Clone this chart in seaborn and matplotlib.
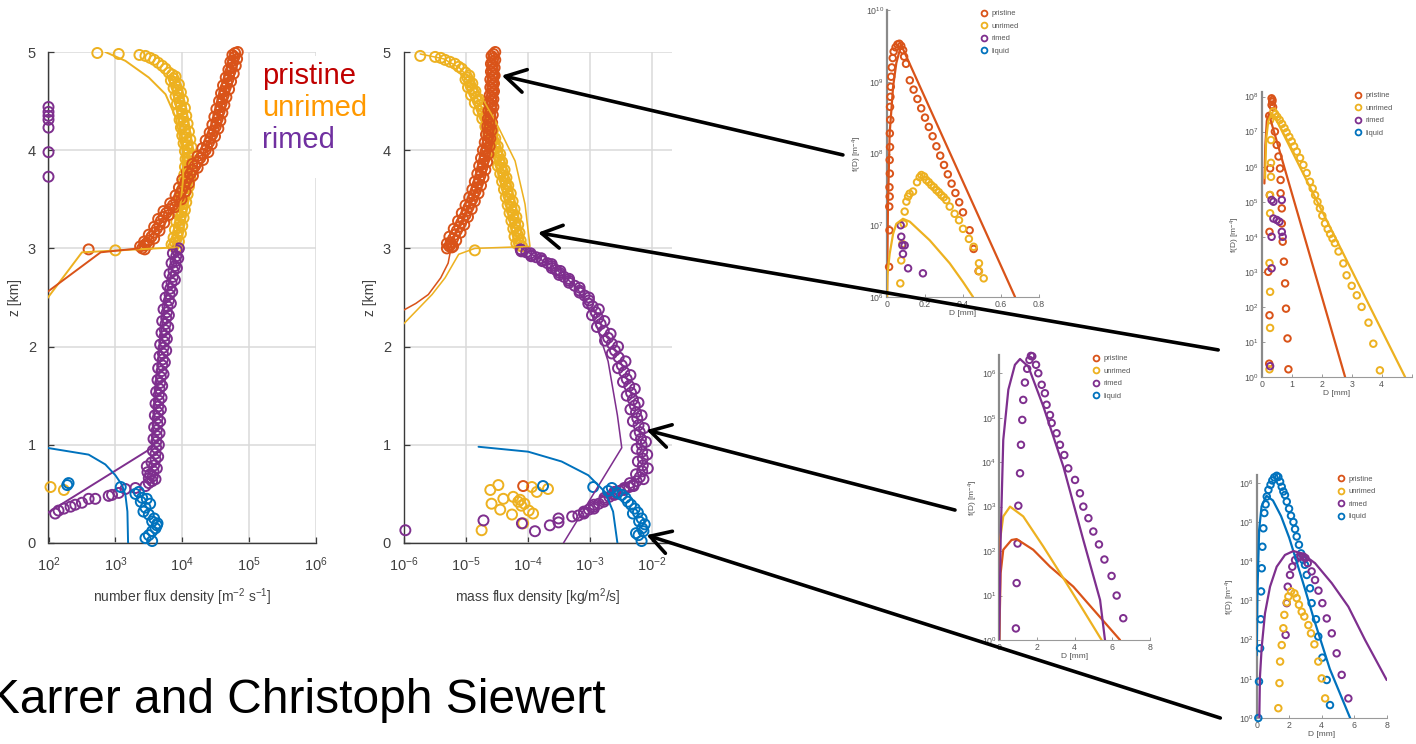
import numpy as np
import matplotlib
matplotlib.use("Agg")
import matplotlib.pyplot as plt
import seaborn as sns
from matplotlib.patches import Rectangle, ConnectionPatch
from matplotlib.lines import Line2D
from matplotlib.ticker import NullLocator

sns.set_style("ticks")
plt.rcParams["font.family"] = ["Liberation Sans", "DejaVu Sans"]
plt.rcParams["mathtext.default"] = "regular"

C_PRI = "#D95319"
C_UNR = "#EDB120"
C_RIM = "#7E2F8E"
C_LIQ = "#0072BD"
TXT = "#404040"

# ---------------- number flux density profiles (log10 values, z in km) ----------------
nf_pri_z = [5.00, 4.97, 4.93, 4.90, 4.86, 4.82, 4.78, 4.74, 4.70, 4.66,
            4.62, 4.58, 4.54, 4.50, 4.46, 4.42, 4.38, 4.34, 4.30, 4.26,
            4.22, 4.18, 4.14, 4.10, 4.06, 4.02, 3.98, 3.94, 3.90, 3.86,
            3.82, 3.78, 3.74, 3.70, 3.66, 3.62, 3.58, 3.54, 3.50, 3.46,
            3.42, 3.38, 3.34, 3.30, 3.26, 3.22, 3.18, 3.14, 3.10, 3.07,
            3.04, 3.02, 2.99, 2.99]
nf_pri_lg = [4.83, 4.75, 4.82, 4.72, 4.80, 4.69, 4.77, 4.65, 4.73, 4.61,
             4.70, 4.58, 4.66, 4.55, 4.63, 4.51, 4.60, 4.48, 4.57, 4.45,
             4.54, 4.41, 4.49, 4.35, 4.44, 4.30, 4.39, 4.23, 4.31, 4.15,
             4.23, 4.07, 4.16, 4.00, 4.10, 3.95, 4.05, 3.90, 3.99, 3.82,
             3.89, 3.72, 3.80, 3.64, 3.73, 3.58, 3.66, 3.50, 3.58, 3.43,
             3.50, 3.37, 3.44, 2.60]
nf_pri_core_z = [4.99, 4.95, 4.91, 4.88, 4.84, 4.80, 4.76, 4.72, 4.68, 4.64,
                 4.60, 4.56, 4.52, 4.48, 4.44, 4.40, 4.36, 4.32, 4.28, 4.24,
                 4.20, 4.16, 4.12, 4.08, 4.04, 4.00, 3.96, 3.92, 3.88, 3.84,
                 3.80, 3.76, 3.72, 3.68, 3.64, 3.60, 3.56, 3.52, 3.48, 3.44,
                 3.40, 3.36, 3.32, 3.28, 3.24, 3.20, 3.16, 3.12, 3.08, 3.05,
                 3.03, 3.00]
nf_pri_core_lg = [4.79, 4.78, 4.76, 4.75, 4.74, 4.72, 4.70, 4.69, 4.67, 4.65,
                  4.63, 4.62, 4.60, 4.59, 4.57, 4.56, 4.54, 4.53, 4.51, 4.50,
                  4.47, 4.45, 4.42, 4.40, 4.37, 4.35, 4.31, 4.27, 4.23, 4.19,
                  4.15, 4.12, 4.08, 4.05, 4.03, 4.00, 3.97, 3.95, 3.91, 3.86,
                  3.81, 3.76, 3.72, 3.68, 3.66, 3.62, 3.58, 3.54, 3.50, 3.46,
                  3.43, 3.40]
nf_pri_line_lg = [1.97, 2.78, 3.35, 3.50, 3.80, 4.00, 4.26, 4.51, 4.66, 4.81]
nf_pri_line_z = [2.55, 2.96, 3.00, 3.11, 3.35, 3.52, 3.82, 4.23, 4.67, 5.00]

nf_unr_z = [4.99, 4.98, 4.97, 4.96, 4.94, 4.92, 4.89, 4.86, 4.83, 4.79,
            4.75, 4.71, 4.67, 4.63, 4.59, 4.55, 4.51, 4.47, 4.43, 4.39,
            4.35, 4.31, 4.27, 4.23, 4.19, 4.15, 4.11, 4.07, 4.03, 3.99,
            3.95, 3.91, 3.87, 3.83, 3.79, 3.75, 3.71, 3.67, 3.63, 3.59,
            3.55, 3.51, 3.47, 3.43, 3.39, 3.35, 3.31, 3.27, 3.23, 3.19,
            3.15, 3.11, 3.07, 3.04, 3.01, 2.98, 0.57, 0.54]
nf_unr_lg = [2.73, 3.05, 3.36, 3.45, 3.52, 3.58, 3.64, 3.70, 3.75, 3.80,
             3.90, 3.83, 3.95, 3.87, 3.98, 3.90, 4.01, 3.92, 4.04, 3.94,
             4.06, 3.96, 4.08, 3.98, 4.10, 4.00, 4.12, 4.02, 4.14, 4.04,
             4.15, 4.05, 4.15, 4.04, 4.14, 4.03, 4.12, 4.01, 4.10, 3.99,
             4.08, 3.97, 4.06, 3.95, 4.04, 3.93, 4.02, 3.91, 4.00, 3.89,
             3.98, 3.87, 3.95, 3.84, 3.92, 3.00, 2.03, 2.23]
nf_unr_core_z = [4.77, 4.73, 4.69, 4.65, 4.61, 4.57, 4.53, 4.49, 4.45, 4.41,
                 4.37, 4.33, 4.29, 4.25, 4.21, 4.17, 4.13, 4.09, 4.05, 4.01,
                 3.97, 3.93, 3.89, 3.85, 3.81, 3.77, 3.73, 3.69, 3.65, 3.61,
                 3.57, 3.53, 3.49, 3.45, 3.41, 3.37, 3.33, 3.29, 3.25, 3.21,
                 3.17, 3.13, 3.09, 3.06, 3.02]
nf_unr_core_lg = [3.85, 3.87, 3.89, 3.91, 3.93, 3.94, 3.95, 3.96, 3.98, 3.99,
                  4.00, 4.01, 4.02, 4.03, 4.04, 4.05, 4.06, 4.07, 4.08, 4.09,
                  4.09, 4.10, 4.10, 4.10, 4.09, 4.08, 4.07, 4.07, 4.06, 4.05,
                  4.04, 4.03, 4.02, 4.01, 4.00, 3.99, 3.98, 3.97, 3.96, 3.95,
                  3.94, 3.93, 3.91, 3.89, 3.87]
nf_unr_line_lg = [2.85, 3.15, 3.50, 3.75, 3.905, 4.005, 4.015, 3.965, 3.88, 2.50, 1.97]
nf_unr_line_z = [5.00, 4.91, 4.74, 4.57, 4.33, 3.99, 3.72, 3.38, 3.01, 2.96, 2.48]

nf_rim_z = [4.44, 4.39, 4.35, 4.31, 4.23, 3.98, 3.73,
            3.00, 2.95, 2.90, 2.85, 2.80, 2.74, 2.68, 2.62, 2.56, 2.50,
            2.44, 2.38, 2.32, 2.26, 2.20, 2.14, 2.08, 2.02, 1.96, 1.90,
            1.84, 1.78, 1.72, 1.66, 1.60, 1.54, 1.48, 1.42, 1.36, 1.30,
            1.24, 1.18, 1.12, 1.06, 1.00, 0.94, 0.88, 0.82, 0.76, 0.70,
            0.65, 0.61,
            0.58, 0.56, 0.55, 0.51, 0.49, 0.48, 0.45, 0.45, 0.41, 0.39,
            0.37, 0.35, 0.33, 0.30, 0.72, 0.66, 0.78]
nf_rim_lg = [2.00, 2.00, 2.00, 2.00, 2.00, 2.00, 2.00,
             3.95, 3.86, 3.94, 3.84, 3.92, 3.81, 3.89, 3.78, 3.85, 3.75,
             3.83, 3.72, 3.80, 3.70, 3.79, 3.69, 3.77, 3.67, 3.76, 3.66,
             3.74, 3.64, 3.72, 3.63, 3.70, 3.61, 3.69, 3.60, 3.68, 3.59,
             3.67, 3.58, 3.66, 3.57, 3.65, 3.56, 3.64, 3.54, 3.62, 3.52,
             3.60, 3.50,
             3.45, 3.30, 3.15, 3.05, 2.95, 2.90, 2.70, 2.60, 2.50, 2.40,
             2.33, 2.23, 2.15, 2.10, 3.48, 3.50, 3.47]
nf_rim_core_z = [2.98, 2.92, 2.87, 2.82, 2.77, 2.71, 2.65, 2.59, 2.53, 2.47,
                 2.41, 2.35, 2.29, 2.23, 2.17, 2.11, 2.05, 1.99, 1.93, 1.87,
                 1.81, 1.75, 1.69, 1.63, 1.57, 1.51, 1.45, 1.39, 1.33, 1.27,
                 1.21, 1.15, 1.09, 1.03, 0.97, 0.91, 0.85, 0.79, 0.73, 0.68,
                 0.63]
nf_rim_core_lg = [3.92, 3.91, 3.90, 3.89, 3.87, 3.86, 3.84, 3.82, 3.81, 3.80,
                  3.78, 3.77, 3.76, 3.75, 3.74, 3.74, 3.73, 3.72, 3.71, 3.71,
                  3.70, 3.69, 3.68, 3.67, 3.66, 3.65, 3.65, 3.64, 3.64, 3.63,
                  3.63, 3.62, 3.62, 3.61, 3.61, 3.60, 3.60, 3.58, 3.57, 3.56,
                  3.55]
nf_rim_line_lg = [1.97, 3.55, 3.58, 3.62, 3.68, 3.75, 3.85, 3.92]
nf_rim_line_z = [0.30, 0.97, 1.30, 1.70, 2.10, 2.50, 2.80, 3.00]

nf_liq_lg = [2.28, 2.30, 3.08, 3.35, 3.30, 3.40, 3.38, 3.45, 3.42, 3.50, 3.55,
             3.58, 3.60, 3.55, 3.62, 3.63, 3.45, 3.55, 3.50, 3.52, 3.47]
nf_liq_z = [0.59, 0.61, 0.57, 0.52, 0.50, 0.46, 0.42, 0.36, 0.32, 0.29, 0.22,
            0.25, 0.15, 0.12, 0.18, 0.20, 0.05, 0.02, 0.08, 0.40, 0.45]
nf_liq_line_lg = [1.97, 2.60, 2.85, 3.00, 3.10, 3.15, 3.18, 3.19]
nf_liq_line_z = [0.97, 0.90, 0.80, 0.69, 0.59, 0.49, 0.32, 0.00]

# ---------------- mass flux density profiles (log10 values, z in km) ----------------
mf_pri_z = [5.00, 4.96, 4.92, 4.88, 4.84, 4.80, 4.76, 4.72, 4.68, 4.64,
            4.60, 4.56, 4.52, 4.48, 4.44, 4.40, 4.36, 4.32, 4.28, 4.24,
            4.20, 4.16, 4.12, 4.08, 4.04, 4.00, 3.96, 3.92, 3.88, 3.84,
            3.80, 3.76, 3.72, 3.68, 3.64, 3.60, 3.56, 3.52, 3.48, 3.44,
            3.40, 3.36, 3.32, 3.28, 3.24, 3.20, 3.16, 3.12, 3.08, 3.05,
            3.02, 3.00, 3.04, 3.01, 0.58]
mf_pri_lg = [-4.52, -4.58, -4.52, -4.59, -4.53, -4.59, -4.53, -4.60, -4.54, -4.60,
             -4.54, -4.61, -4.55, -4.62, -4.55, -4.63, -4.56, -4.64, -4.57, -4.65,
             -4.58, -4.67, -4.60, -4.69, -4.61, -4.72, -4.63, -4.75, -4.65, -4.78,
             -4.68, -4.81, -4.71, -4.85, -4.75, -4.89, -4.79, -4.94, -4.85, -5.00,
             -4.90, -5.06, -4.96, -5.12, -5.02, -5.19, -5.08, -5.26, -5.15, -5.30,
             -5.20, -5.30, -5.24, -5.22, -4.07]
mf_pri_core_z = [4.98, 4.94, 4.90, 4.86, 4.82, 4.78, 4.74, 4.70, 4.66, 4.62,
                 4.58, 4.54, 4.50, 4.46, 4.42, 4.38, 4.34, 4.30, 4.26, 4.22,
                 4.18, 4.14, 4.10, 4.06, 4.02, 3.98, 3.94, 3.90, 3.86, 3.82,
                 3.78, 3.74, 3.70, 3.66, 3.62, 3.58, 3.54, 3.50, 3.46, 3.42,
                 3.38, 3.34, 3.30, 3.26, 3.22, 3.18, 3.14, 3.10, 3.06, 3.02]
mf_pri_core_lg = [-4.55, -4.55, -4.56, -4.56, -4.56, -4.56, -4.56, -4.57, -4.57, -4.57,
                  -4.57, -4.58, -4.58, -4.58, -4.59, -4.60, -4.60, -4.61, -4.61, -4.62,
                  -4.63, -4.63, -4.64, -4.65, -4.66, -4.68, -4.69, -4.70, -4.72, -4.73,
                  -4.75, -4.76, -4.78, -4.80, -4.82, -4.84, -4.87, -4.89, -4.92, -4.95,
                  -4.98, -5.00, -5.04, -5.07, -5.10, -5.14, -5.17, -5.20, -5.24, -5.26]
mf_pri_line_lg = [-4.55, -4.47, -4.50, -4.55, -4.62, -4.72, -4.85, -5.00, -5.15, -5.27,
                  -5.25, -5.28, -5.40, -5.60, -5.80, -6.03]
mf_pri_line_z = [5.00, 4.78, 4.50, 4.20, 4.00, 3.80, 3.55, 3.35, 3.18, 3.03,
                 2.95, 2.85, 2.70, 2.53, 2.44, 2.36]

mf_unr_z = [4.96, 4.95, 4.94, 4.92, 4.90, 4.88, 4.85, 4.83, 4.79,
            4.76, 4.72, 4.68, 4.64, 4.60, 4.56, 4.52, 4.48, 4.44, 4.40,
            4.36, 4.32, 4.28, 4.24, 4.20, 4.16, 4.12, 4.08, 4.04, 4.00,
            3.96, 3.92, 3.88, 3.84, 3.80, 3.76, 3.72, 3.68, 3.64, 3.60,
            3.56, 3.52, 3.48, 3.44, 3.40, 3.36, 3.32, 3.28, 3.24, 3.20,
            3.16, 3.12, 3.08, 3.05, 3.02, 2.98,
            0.54, 0.59, 0.40, 0.34, 0.45, 0.47, 0.42, 0.38, 0.40, 0.30,
            0.57, 0.52, 0.55, 0.29, 0.20, 0.13, 0.44, 0.33]
mf_unr_lg = [-5.73, -5.49, -5.40, -5.33, -5.25, -5.17, -5.11, -5.06, -5.00,
             -4.94, -5.00, -4.89, -4.96, -4.84, -4.91, -4.78, -4.85, -4.72, -4.79,
             -4.66, -4.73, -4.61, -4.68, -4.56, -4.63, -4.52, -4.59, -4.48, -4.55,
             -4.44, -4.51, -4.41, -4.48, -4.37, -4.44, -4.34, -4.41, -4.31, -4.38,
             -4.27, -4.35, -4.24, -4.32, -4.21, -4.29, -4.18, -4.26, -4.15, -4.23,
             -4.13, -4.21, -4.11, -4.18, -4.09, -4.85,
             -4.60, -4.47, -4.58, -4.44, -4.39, -4.23, -4.15, -4.10, -4.05, -3.91,
             -3.93, -3.85, -3.67, -4.25, -4.07, -4.74, -4.12, -3.98]
mf_unr_core_z = [4.74, 4.70, 4.66, 4.62, 4.58, 4.54, 4.50, 4.46, 4.42, 4.38,
                 4.34, 4.30, 4.26, 4.22, 4.18, 4.14, 4.10, 4.06, 4.02, 3.98,
                 3.94, 3.90, 3.86, 3.82, 3.78, 3.74, 3.70, 3.66, 3.62, 3.58,
                 3.54, 3.50, 3.46, 3.42, 3.38, 3.34, 3.30, 3.26, 3.22, 3.18,
                 3.14, 3.10, 3.06, 3.03]
mf_unr_core_lg = [-4.97, -4.94, -4.92, -4.89, -4.86, -4.83, -4.80, -4.77, -4.74, -4.72,
                  -4.69, -4.66, -4.64, -4.61, -4.59, -4.57, -4.55, -4.53, -4.51, -4.49,
                  -4.47, -4.45, -4.44, -4.42, -4.40, -4.39, -4.37, -4.35, -4.34, -4.32,
                  -4.31, -4.29, -4.28, -4.26, -4.25, -4.23, -4.22, -4.20, -4.19, -4.18,
                  -4.16, -4.15, -4.14, -4.13]
mf_unr_line_lg = [-5.73, -5.35, -5.10, -4.95, -4.75, -4.52, -4.20, -4.04, -3.96,
                  -4.85, -5.11, -5.33, -5.54, -6.03]
mf_unr_line_z = [4.98, 4.93, 4.84, 4.74, 4.55, 4.30, 3.89, 3.45, 3.02,
                 3.00, 2.94, 2.70, 2.53, 2.21]

mf_rim_z = [2.99, 2.97, 2.95, 2.92, 2.90, 2.87, 2.84, 2.80, 2.77, 2.73,
            2.69, 2.65, 2.60, 2.55, 2.50, 2.44, 2.38, 2.32, 2.26, 2.20,
            2.13, 2.06, 2.00, 1.93, 1.85, 1.78, 1.71, 1.64, 1.57, 1.50,
            1.43, 1.36, 1.30, 1.24, 1.17, 1.10, 1.03, 0.96, 0.90, 0.83,
            0.76, 0.70, 0.65, 0.61, 0.58, 0.56, 0.54, 0.52, 0.49, 0.46,
            0.42, 0.39, 0.35, 0.32, 0.30, 0.27,
            0.13, 0.23, 0.20, 0.12, 0.18, 0.25, 0.21]
mf_rim_lg = [-4.11, -4.10, -3.95, -3.94, -3.78, -3.76, -3.61, -3.61, -3.47, -3.49,
             -3.33, -3.33, -3.16, -3.16, -3.01, -3.02, -2.85, -2.96, -2.76, -2.88,
             -2.66, -2.75, -2.54, -2.64, -2.42, -2.54, -2.34, -2.46, -2.27, -2.40,
             -2.21, -2.34, -2.16, -2.30, -2.12, -2.26, -2.09, -2.24, -2.07, -2.22,
             -2.06, -2.25, -2.13, -2.35, -2.29, -2.44, -2.44, -2.60, -2.60, -2.76,
             -2.77, -2.93, -2.93, -3.09, -3.09, -3.28,
             -5.97, -4.71, -4.09, -3.88, -3.64, -3.50, -3.50]
mf_rim_core_z = [2.98, 2.96, 2.93, 2.91, 2.88, 2.85, 2.82, 2.78, 2.75, 2.71,
                 2.67, 2.62, 2.57, 2.52, 2.47, 2.41, 2.35, 2.29, 2.23, 2.16,
                 2.09, 2.03, 1.96, 1.89, 1.81, 1.74, 1.67, 1.60, 1.53, 1.46,
                 1.40, 1.33, 1.27, 1.20, 1.13, 1.06, 1.00, 0.93, 0.86, 0.79,
                 0.73, 0.67, 0.63, 0.59, 0.57, 0.55, 0.53, 0.50, 0.47, 0.44,
                 0.40, 0.37, 0.34, 0.31, 0.28]
mf_rim_core_lg = [-4.10, -4.02, -3.94, -3.86, -3.77, -3.68, -3.61, -3.54, -3.48, -3.41,
                  -3.33, -3.24, -3.16, -3.08, -3.01, -2.95, -2.90, -2.86, -2.82, -2.77,
                  -2.70, -2.64, -2.59, -2.53, -2.48, -2.44, -2.40, -2.36, -2.33, -2.30,
                  -2.27, -2.25, -2.23, -2.21, -2.19, -2.17, -2.16, -2.15, -2.14, -2.14,
                  -2.15, -2.19, -2.24, -2.30, -2.36, -2.44, -2.52, -2.60, -2.68, -2.76,
                  -2.85, -2.93, -3.01, -3.09, -3.18]
mf_rim_line_lg = [-4.10, -3.60, -3.20, -2.91, -2.70, -2.55, -2.48, -3.42]
mf_rim_line_z = [3.00, 2.82, 2.60, 2.26, 1.85, 1.30, 0.97, 0.00]

mf_liq_lg = [-2.94, -3.75, -2.64, -2.70, -2.55, -2.48, -2.42, -2.38, -2.33, -2.27,
             -2.22, -2.16, -2.20, -2.11, -2.15, -2.21, -2.16, -2.25, -2.13, -2.30]
mf_liq_z = [0.57, 0.58, 0.56, 0.53, 0.51, 0.49, 0.46, 0.42, 0.39, 0.35,
            0.31, 0.25, 0.22, 0.19, 0.15, 0.08, 0.02, 0.10, 0.12, 0.30]
mf_liq_line_lg = [-4.79, -3.99, -3.45, -3.02, -2.75, -2.62, -2.55]
mf_liq_line_z = [0.98, 0.93, 0.83, 0.69, 0.52, 0.32, 0.00]

# ---------------- size distributions f(D) (D in mm, log10 f) ----------------
# z ~ 4.8 km
a_pri_d = [0.011, 0.013, 0.012, 0.014, 0.013, 0.015, 0.014, 0.016, 0.015, 0.017,
           0.016, 0.018, 0.020, 0.022, 0.025, 0.030, 0.035,
           0.045, 0.055, 0.065, 0.075, 0.085,
           0.090, 0.100, 0.120, 0.140, 0.160, 0.180, 0.200, 0.220, 0.240, 0.260,
           0.280, 0.300, 0.320, 0.340, 0.360, 0.380, 0.400, 0.435, 0.456, 0.482]
a_pri_lg = [6.42, 6.93, 7.26, 7.40, 7.53, 7.72, 7.91, 8.09, 8.28, 8.47,
            8.65, 8.79, 8.93, 9.07, 9.20, 9.33, 9.42,
            9.48, 9.52, 9.53, 9.50, 9.44,
            9.35, 9.25, 9.02, 8.89, 8.76, 8.63, 8.50, 8.37, 8.24, 8.10,
            7.97, 7.84, 7.71, 7.58, 7.45, 7.32, 7.18, 6.93, 6.67, 6.36]
a_pri_line_d = [0.0, 0.005, 0.014, 0.032, 0.049, 0.067, 0.075, 0.674]
a_pri_line_lg = [6.0, 7.26, 8.28, 8.93, 9.26, 9.44, 9.51, 6.0]
a_unr_d = [0.070, 0.075, 0.081, 0.088, 0.093, 0.102, 0.111, 0.119, 0.137, 0.158,
           0.172, 0.181, 0.195, 0.207, 0.220, 0.233, 0.247, 0.260, 0.273, 0.286,
           0.299, 0.312, 0.330, 0.356, 0.379, 0.400, 0.431, 0.456, 0.484, 0.484,
           0.509]
a_unr_lg = [6.19, 6.51, 6.74, 7.02, 7.19, 7.33, 7.40, 7.44, 7.47, 7.60,
            7.67, 7.70, 7.68, 7.63, 7.60, 7.56, 7.53, 7.49, 7.46, 7.42,
            7.39, 7.35, 7.26, 7.16, 7.07, 6.95, 6.81, 6.70, 6.47, 6.36,
            6.26]
a_unr_line_d = [0.0, 0.002, 0.014, 0.032, 0.049, 0.084, 0.120, 0.225, 0.330, 0.400, 0.453]
a_unr_line_lg = [6.0, 6.3, 6.6, 6.88, 7.02, 7.09, 7.05, 6.79, 6.47, 6.21, 6.0]
a_rim_d = [0.072, 0.075, 0.081, 0.084, 0.093, 0.111, 0.189]
a_rim_lg = [7.00, 6.84, 6.72, 6.60, 6.72, 6.40, 6.33]

# z ~ 3.2 km
b_pri_d = [0.33, 0.35, 0.33, 0.36, 0.38,
           0.44, 0.50, 0.56, 0.61, 0.63, 0.63, 0.67, 0.67, 0.70, 0.74, 0.78, 0.81, 0.86, 0.89,
           0.25, 0.28, 0.27, 0.26, 0.22, 0.26, 0.25]
b_pri_lg = [7.95, 7.85, 7.76, 7.90, 7.70,
            7.00, 6.62, 6.29, 5.95, 5.62, 5.24, 4.81, 4.38, 3.86, 3.29, 2.67, 1.95, 1.10, 0.22,
            7.45, 5.95, 5.19, 4.14, 3.00, 1.76, 0.38]
b_pri_line_d = [0.09, 0.12, 0.17, 0.24, 2.78]
b_pri_line_lg = [5.52, 6.6, 7.3, 7.5, 0.0]
b_unr_d = [0.39, 0.45, 0.52, 0.60, 0.68, 0.76, 0.83, 0.92, 1.00, 1.08,
           1.17, 1.28, 1.39, 1.50, 1.61, 1.70, 1.78, 1.86, 1.94, 2.02,
           2.11, 2.20, 2.28, 2.36, 2.44, 2.56, 2.72, 2.83, 3.00, 3.17,
           3.33, 3.56, 3.72, 3.94,
           0.28, 0.31, 0.31, 0.31, 0.28, 0.28, 0.26, 0.28, 0.28, 0.26]
b_unr_lg = [7.57, 7.50, 7.42, 7.33, 7.22, 7.10, 6.98, 6.85, 6.72, 6.58,
            6.43, 6.25, 6.05, 5.82, 5.57, 5.38, 5.19, 5.00, 4.81, 4.60,
            4.38, 4.22, 4.08, 3.95, 3.82, 3.58, 3.24, 2.90, 2.60, 2.33,
            2.00, 1.55, 0.95, 0.19,
            7.33, 6.76, 6.11, 5.71, 5.19, 4.67, 3.25, 2.43, 1.40, 0.22]
b_unr_line_d = [0.11, 0.15, 0.22, 0.33, 0.42, 4.78]
b_unr_line_lg = [5.67, 6.8, 7.3, 7.52, 7.45, 0.0]
b_rim_d = [0.33, 0.39, 0.67, 0.39, 0.50, 0.59, 0.33, 0.67, 0.70, 0.33, 0.28]
b_rim_lg = [5.05, 5.00, 5.05, 4.52, 4.48, 4.43, 4.00, 4.14, 4.00, 3.10, 0.31]

# z ~ 1.1 km
c_rim_d = [0.88, 0.92, 0.97, 1.01, 1.10, 1.15, 1.22, 1.27, 1.36, 1.48,
           1.60, 1.68, 1.75, 1.95, 2.07, 2.25, 2.42, 2.51, 2.69, 2.78,
           3.04, 3.22, 3.45, 3.66, 4.02, 4.28, 4.46, 4.73, 4.99, 5.29,
           5.58, 5.96, 6.23, 6.58]
c_rim_lg = [0.26, 1.28, 2.17, 3.02, 3.75, 4.39, 4.95, 5.40, 5.79, 6.10,
            6.30, 6.39, 6.38, 6.19, 6.00, 5.74, 5.55, 5.29, 5.06, 4.88,
            4.65, 4.39, 4.16, 3.86, 3.60, 3.30, 3.00, 2.74, 2.44, 2.15,
            1.81, 1.44, 1.00, 0.49]
c_rim_line_d = [0.0, 0.07, 0.21, 0.48, 0.83, 1.10, 1.54, 2.34, 3.40, 4.46, 5.35, 5.61]
c_rim_line_lg = [0.0, 2.25, 4.5, 5.63, 6.19, 6.32, 6.15, 5.25, 3.9, 2.25, 0.9, 0.0]
c_unr_line_d = [0.0, 0.04, 0.21, 0.57, 1.27, 2.34, 3.40, 4.46, 5.43]
c_unr_line_lg = [0.0, 2.25, 2.78, 3.0, 2.78, 2.1, 1.39, 0.67, 0.0]
c_pri_line_d = [0.0, 0.07, 0.21, 0.65, 0.92, 1.80, 2.69, 3.93, 5.17, 6.41]
c_pri_line_lg = [0.0, 1.5, 2.03, 2.25, 2.27, 2.03, 1.65, 1.2, 0.6, 0.0]

# z ~ 0.1 km
d_liq_d = [0.10, 0.14, 0.21, 0.25, 0.27, 0.31, 0.35, 0.41, 0.47, 0.55,
           0.62, 0.72, 0.85, 0.96, 1.08,
           1.23, 1.33, 1.44, 1.54, 1.64, 1.74, 1.85, 1.99, 2.11, 2.26,
           2.36, 2.46, 2.60, 2.73, 2.87, 2.97, 3.08, 3.28, 3.38, 3.65,
           3.79, 4.04, 4.31, 4.51]
d_liq_lg = [0.0, 0.93, 1.78, 2.52, 3.23, 3.82, 4.37, 4.84, 5.23, 5.45,
            5.65, 5.82, 5.95, 6.06, 6.14,
            6.18, 6.15, 6.03, 5.90, 5.78, 5.69, 5.52, 5.34, 5.16, 5.00,
            4.82, 4.63, 4.42, 4.20, 4.03, 3.91, 3.65, 3.31, 2.93, 2.52,
            2.08, 1.54, 0.97, 0.33]
d_liq_line_d = [0.0, 0.05, 0.15, 0.3, 0.6, 1.0, 1.5, 2.0, 2.3, 3.0, 3.5, 4.0, 4.5, 5.0, 5.4, 5.75]
d_liq_line_lg = [1.6, 3.3, 4.8, 5.4, 5.67, 5.55, 5.15, 4.6, 4.2, 3.25, 2.55, 1.9, 1.25, 0.75, 0.35, 0.0]
d_rim_d = [1.78, 1.85, 1.91, 2.05, 2.19, 2.36, 2.55, 2.70, 2.87, 3.00,
           3.14, 3.38, 3.59, 3.80, 4.04, 4.31, 4.62, 4.92, 5.23, 5.64]
d_rim_lg = [2.12, 2.93, 3.35, 3.65, 3.86, 4.03, 4.10, 4.12, 4.12, 4.08,
            3.95, 3.74, 3.52, 3.25, 2.93, 2.54, 2.16, 1.65, 1.10, 0.50]
d_rim_line_d = [0.16, 0.2, 0.31, 0.51, 0.82, 1.23, 1.74, 2.26, 2.77, 3.59, 4.62, 5.64, 6.67, 8.0]
d_rim_line_lg = [0.0, 1.05, 1.82, 2.67, 3.35, 3.86, 4.16, 4.26, 4.2, 3.95, 3.44, 2.84, 1.99, 0.97]
d_unr_d = [1.33, 1.40, 1.44, 1.54, 1.64, 1.70, 1.85, 1.95, 2.11, 2.32,
           2.46, 2.60, 2.77, 2.93, 3.18, 3.34, 3.55, 3.79, 4.00, 4.21]
d_unr_lg = [0.25, 0.89, 1.44, 1.86, 2.29, 2.63, 2.95, 3.10, 3.23, 3.18,
            3.06, 2.89, 2.71, 2.59, 2.37, 2.16, 1.88, 1.44, 1.01, 0.50]

classes = ["pristine", "unrimed", "rimed", "liquid"]
class_colors = [C_PRI, C_UNR, C_RIM, C_LIQ]
label_words = ["pristine", "unrimed", "rimed"]
label_colors = ["#C00000", "#FF9900", "#7030A0"]

# ---------------- figure ----------------
W, H = 1416, 744
fig = plt.figure(figsize=(W / 100, H / 100), dpi=100)
fig.patch.set_facecolor("white")


def axes_px(left, top, right, bottom):
    return fig.add_axes([left / W, 1 - bottom / H, (right - left) / W, (bottom - top) / H])


def p10(v):
    return np.power(10.0, np.asarray(v, dtype=float))


def circles(ax, x, y, color, size, width):
    sns.scatterplot(x=x, y=y, ax=ax, marker="o", s=size, facecolors="none",
                    edgecolor=color, linewidth=width, clip_on=False, zorder=3)


def curve(ax, x, y, color, width):
    sns.lineplot(x=x, y=y, ax=ax, sort=False, estimator=None, color=color,
                 linewidth=width, zorder=4)


def style_profile(ax, xlim, xticks, xlabel):
    ax.set_xscale("log")
    ax.set_xlim(*xlim)
    ax.set_ylim(0, 5)
    ax.set_xticks(xticks)
    ax.xaxis.set_minor_locator(NullLocator())
    ax.set_yticks(range(6))
    ax.grid(True, color="#dadada", linewidth=1.1)
    ax.set_axisbelow(True)
    for s in ["top", "right"]:
        ax.spines[s].set_visible(False)
    for s in ["left", "bottom"]:
        ax.spines[s].set_color("#3a3a3a")
        ax.spines[s].set_linewidth(1.0)
    ax.tick_params(direction="in", length=4, width=0.9, color="#3a3a3a",
                   labelcolor=TXT, labelsize=10.5, pad=9)
    ax.set_xlabel(xlabel, fontsize=10, color=TXT, labelpad=9)
    ax.set_ylabel("z [km]", fontsize=10, color=TXT, labelpad=4)
    ax.patch.set_alpha(0)


def style_inset(ax, xlim, xticks, xticklabels, top_lg, ytick_lg):
    ax.set_yscale("log")
    ax.set_xlim(*xlim)
    ax.set_ylim(p10(ytick_lg[0]), p10(top_lg))
    ax.set_xticks(xticks)
    ax.set_xticklabels(xticklabels)
    ax.set_yticks(p10(ytick_lg))
    ax.yaxis.set_minor_locator(NullLocator())
    for s in ["top", "right"]:
        ax.spines[s].set_visible(False)
    ax.spines["left"].set_color("#8a8a8a")
    ax.spines["left"].set_linewidth(1.6)
    ax.spines["bottom"].set_color("#9a9a9a")
    ax.spines["bottom"].set_linewidth(0.8)
    ax.tick_params(direction="in", length=2.5, width=0.6, color="#8a8a8a",
                   labelcolor="#555555", labelsize=6.3, pad=2)
    ax.set_xlabel("D [mm]", fontsize=6, color="#555555", labelpad=1)
    ax.set_ylabel("f(D) [m$^{-4}$]", fontsize=6, color="#555555", labelpad=1)
    ax.patch.set_alpha(0)
    handles = [Line2D([], [], ls="", marker="o", ms=4.2, mfc="none", mec=c, mew=1.3)
               for c in class_colors]
    ax.legend(handles, classes, loc="upper left", bbox_to_anchor=(0.6, 1.01),
              frameon=False, fontsize=5.4, handlelength=0.8, handletextpad=0.6,
              labelspacing=0.7, borderaxespad=0, labelcolor="#555555")


MS, MW, LW = 52, 1.4, 1.4

# number flux density panel
ax1 = axes_px(48.5, 52, 316, 543)
style_profile(ax1, (1e2, 1e6), p10([2, 3, 4, 5, 6]),
              "number flux density [m$^{-2}$ s$^{-1}$]")
circles(ax1, p10(nf_unr_lg + nf_unr_core_lg), nf_unr_z + nf_unr_core_z, C_UNR, MS, MW)
circles(ax1, p10(nf_pri_lg + nf_pri_core_lg), nf_pri_z + nf_pri_core_z, C_PRI, MS, MW)
circles(ax1, p10(nf_rim_lg + nf_rim_core_lg), nf_rim_z + nf_rim_core_z, C_RIM, MS, MW)
circles(ax1, p10(nf_liq_lg), nf_liq_z, C_LIQ, MS, MW)
curve(ax1, p10(nf_unr_line_lg), nf_unr_line_z, C_UNR, LW)
curve(ax1, p10(nf_pri_line_lg), nf_pri_line_z, C_PRI, LW)
curve(ax1, p10(nf_rim_line_lg), nf_rim_line_z, C_RIM, LW)
curve(ax1, p10(nf_liq_line_lg), nf_liq_line_z, C_LIQ, LW)

# class names on a white box over the top right of the panel
fig.add_artist(Rectangle((252 / W, 1 - 178 / H), 80 / W, 122 / H,
                         transform=fig.transFigure, facecolor="white",
                         edgecolor="none", zorder=5))
for i, (word, col) in enumerate(zip(label_words, label_colors)):
    fig.text(262 / W, 1 - (76 + 32 * i) / H, word, color=col, fontsize=21,
             va="center", ha="left", zorder=6)

# mass flux density panel
ax2 = axes_px(403.5, 52, 671.5, 543)
style_profile(ax2, (1e-6, 2.1e-2), p10([-6, -5, -4, -3, -2]),
              "mass flux density [kg/m$^2$/s]")
circles(ax2, p10(mf_unr_lg + mf_unr_core_lg), mf_unr_z + mf_unr_core_z, C_UNR, MS, MW)
circles(ax2, p10(mf_pri_lg + mf_pri_core_lg), mf_pri_z + mf_pri_core_z, C_PRI, MS, MW)
circles(ax2, p10(mf_rim_lg + mf_rim_core_lg), mf_rim_z + mf_rim_core_z, C_RIM, MS, MW)
circles(ax2, p10(mf_liq_lg), mf_liq_z, C_LIQ, MS, MW)
curve(ax2, p10(mf_unr_line_lg), mf_unr_line_z, C_UNR, LW * 0.8)
curve(ax2, p10(mf_pri_line_lg), mf_pri_line_z, C_PRI, LW * 0.8)
curve(ax2, p10(mf_rim_line_lg), mf_rim_line_z, C_RIM, LW * 0.8)
curve(ax2, p10(mf_liq_line_lg), mf_liq_line_z, C_LIQ, LW)

IS, IW, IL = 22, 1.4, 1.6

# size distribution insets
axA = axes_px(887, 10, 1039, 297)
style_inset(axA, (0, 0.8), [0, 0.2, 0.4, 0.6, 0.8], ["0", "0.2", "0.4", "0.6", "0.8"],
            10, [6, 7, 8, 9, 10])
circles(axA, a_pri_d, p10(a_pri_lg), C_PRI, IS, IW)
circles(axA, a_unr_d, p10(a_unr_lg), C_UNR, IS, IW)
circles(axA, a_rim_d, p10(a_rim_lg), C_RIM, IS, IW)
curve(axA, a_pri_line_d, p10(a_pri_line_lg), C_PRI, IL)
curve(axA, a_unr_line_d, p10(a_unr_line_lg), C_UNR, IL)

axB = axes_px(1261.7, 92, 1411.7, 377)
style_inset(axB, (0, 5), [0, 1, 2, 3, 4, 5], ["0", "1", "2", "3", "4", ""],
            8.13, [0, 1, 2, 3, 4, 5, 6, 7, 8])
circles(axB, b_pri_d, p10(b_pri_lg), C_PRI, IS, IW)
circles(axB, b_unr_d, p10(b_unr_lg), C_UNR, IS, IW)
circles(axB, b_rim_d, p10(b_rim_lg), C_RIM, IS, IW)
curve(axB, b_pri_line_d, p10(b_pri_line_lg), C_PRI, IL)
curve(axB, b_unr_line_d, p10(b_unr_line_lg), C_UNR, IL)

axC = axes_px(999.3, 355, 1150, 640)
style_inset(axC, (0, 8), [0, 2, 4, 6, 8], ["0", "2", "4", "6", "8"],
            6.41, [0, 1, 2, 3, 4, 5, 6])
circles(axC, c_rim_d, p10(c_rim_lg), C_RIM, IS, IW)
curve(axC, c_pri_line_d, p10(c_pri_line_lg), C_PRI, IL)
curve(axC, c_unr_line_d, p10(c_unr_line_lg), C_UNR, IL)
curve(axC, c_rim_line_d, p10(c_rim_line_lg), C_RIM, IL)

axD = axes_px(1256.7, 475, 1386.7, 718)
style_inset(axD, (0, 8), [0, 2, 4, 6, 8], ["0", "2", "4", "6", "8"],
            6.2, [0, 1, 2, 3, 4, 5, 6])
circles(axD, d_liq_d, p10(d_liq_lg), C_LIQ, IS, IW)
circles(axD, d_rim_d, p10(d_rim_lg), C_RIM, IS, IW)
circles(axD, d_unr_d, p10(d_unr_lg), C_UNR, IS, IW)
curve(axD, d_liq_line_d, p10(d_liq_line_lg), C_LIQ, IL)
curve(axD, d_rim_line_d, p10(d_rim_line_lg), C_RIM, IL)

# arrows from each size distribution to its height in the mass flux profile
arrow_links = [
    (axA, (-0.29, 0.495), (-4.415, 4.76)),
    (axB, (-0.29, 0.095), (-3.83, 3.16)),
    (axC, (-0.294, 0.456), (-2.08, 1.15)),
    (axD, (-0.28, 0.0), (-2.08, 0.08)),
]
for inset, tail, (head_lg, head_z) in arrow_links:
    cp = ConnectionPatch(xyA=tail, coordsA=inset.transAxes,
                         xyB=(10 ** head_lg, head_z), coordsB=ax2.transData,
                         arrowstyle="->,head_length=0.55,head_width=0.32",
                         mutation_scale=26, linewidth=2.6, color="black", zorder=10)
    fig.add_artist(cp)

fig.text(-12 / W, 1 - 713 / H, "Karrer and Christoph Siewert", fontsize=34.5,
         color="black", ha="left", va="baseline", zorder=6)

fig.savefig("out.png", dpi=100, facecolor="white")
